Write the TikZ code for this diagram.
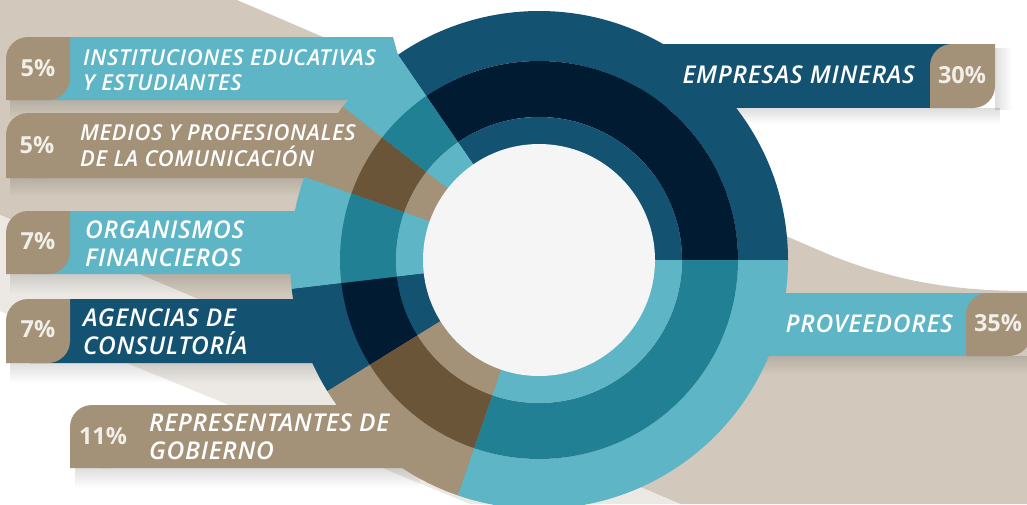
\documentclass[tikz,border=0pt]{standalone}
\usepackage{fontspec}
\IfFontExistsTF{Open Sans SemiBold Italic}
 {\newfontfamily\labfont{Open Sans SemiBold Italic}[LetterSpace=3]}
 {\IfFontExistsTF{Open Sans Semibold Italic}
   {\newfontfamily\labfont{Open Sans Semibold Italic}[LetterSpace=3]}
   {\newfontfamily\labfont{Open Sans}[FakeBold=1.2,FakeSlant=0.2,LetterSpace=3]}}
\newfontfamily\pctfont{Open Sans}
\usetikzlibrary{fadings}
\definecolor{tealL}{HTML}{5DB5C5}
\definecolor{tealD}{HTML}{218094}
\definecolor{navyL}{HTML}{145272}
\definecolor{navyD}{HTML}{011B33}
\definecolor{tanL}{HTML}{A39178}
\definecolor{tanD}{HTML}{6A5538}
\definecolor{bgbeige}{HTML}{D2C9BC}
\definecolor{bglight}{HTML}{ECE9E4}
\definecolor{hole}{HTML}{F5F5F5}
\definecolor{pctc}{HTML}{F2EEE8}
\newcommand\ringseg[5]{%
  \fill[#3] (#1:249) arc[start angle=#1,end angle=#2,radius=249] -- (#2:199) arc[start angle=#2,end angle=#1,radius=199] -- cycle;
  \fill[#4] (#1:199) arc[start angle=#1,end angle=#2,radius=199] -- (#2:143) arc[start angle=#2,end angle=#1,radius=143] -- cycle;
  \fill[#5] (#1:143) arc[start angle=#1,end angle=#2,radius=143] -- (#2:110) arc[start angle=#2,end angle=#1,radius=110] -- cycle;}
\newcommand\leafbadge[4]{%
  \fill[tanL] (#1,#4) -- (#1,{#2+22}) arc[start angle=180,end angle=270,radius=22] -- (#3,#2) -- (#3,{#4-22}) arc[start angle=0,end angle=90,radius=22] -- cycle;}
\tikzset{
  labA/.style={text=white, inner sep=0pt, font=\labfont\fontsize{22}{26}\selectfont},
  labB/.style={text=white, inner sep=0pt, font=\labfont\fontsize{24.5}{28}\selectfont},
  pct/.style={text=pctc, inner sep=0pt, anchor=base, font=\pctfont\bfseries\fontsize{23.5}{26}\selectfont},
  shadowS/.style={fill=black, fill opacity=0.13, path fading=south},
  shadowE/.style={fill=black, fill opacity=0.13, path fading=east},
}
\begin{document}
\begin{tikzpicture}[x=1pt,y=-1pt]
\useasboundingbox (0,0) rectangle (1027,504);
\clip (0,0) rectangle (1027,504);
\fill[white] (0,0) rectangle (1027,504);
% background swooshes
\fill[bgbeige] (0,0) -- (237,0) -- (830,255) .. controls (900,283) and (960,291) .. (1027,291) -- (1027,504) -- (680,504) -- (0,215) -- cycle;
\fill[bglight] (0,215) -- (680,504) -- (470,504) -- (0,311) -- cycle;
% soft shadows under the bars
\fill[shadowS] (10,100) rectangle (395,118);
\fill[shadowS] (10,178) rectangle (310,196);
\fill[shadowS] (10,274) rectangle (300,294);
\fill[shadowS] (10,363) rectangle (330,383);
\fill[shadowS] (75,468) rectangle (420,488);
\fill[shadowS] (720,108) rectangle (1000,124);
\fill[shadowS] (760,356) rectangle (1027,374);
\fill[shadowE] (995,48) rectangle (1012,110);
% connectors and bars
\fill[tealL] (30,37) -- (393,37) -- (398,55) -- (539,260) -- (340,112) -- (349,100) -- (30,100) -- cycle;
\fill[tanL] (30,113) -- (340,113) -- (539,260) -- (305,178) -- (30,178) -- cycle;
\fill[tealL] (30,211) -- (297,211) -- (305,178) -- (539,260) -- (295,288) -- (293,274) -- (30,274) -- cycle;
\fill[navyL] (30,299) -- (296,299) -- (295,288) -- (539,260) -- (330,388) -- (315,363) -- (30,363) -- cycle;
\fill[tanL] (100,405) -- (340,405) -- (330,388) -- (539,260) -- (460,493) -- (403,468) -- (100,468) -- cycle;
\fill[navyL] (640,44) rectangle (975,108);
\fill[tealL] (700,293) rectangle (1010,356);
% donut
\begin{scope}[shift={(539,260)}]
  \ringseg{0}{-124.5}{navyL}{navyD}{navyL}
  \ringseg{-124.5}{-142}{tealL}{tealD}{tealL}
  \ringseg{-142}{-160.5}{tanL}{tanD}{tanL}
  \ringseg{-160.5}{-186.7}{tealL}{tealD}{tealL}
  \ringseg{-186.7}{-211.8}{navyL}{navyD}{navyL}
  \ringseg{-211.8}{-251}{tanL}{tanD}{tanL}
  \ringseg{-251}{-360}{tealL}{tealD}{tealL}
  \fill[hole] (0,0) circle[radius=116];
\end{scope}
% badges
\leafbadge{6}{37}{70}{100}
\leafbadge{6}{113}{70}{178}
\leafbadge{6}{211}{70}{274}
\leafbadge{6}{299}{70}{363}
\leafbadge{70}{405}{134}{468}
\leafbadge{930}{44}{995}{108}
\leafbadge{966}{293}{1031}{356}
% labels
\node[labA, anchor=base west] (i1) at (83,65) {INSTITUCIONES EDUCATIVAS};
\node[labA, anchor=base west] (i2) at (83,90) {Y ESTUDIANTES};
\node[labA, anchor=base west] (m1) at (80,140) {MEDIOS Y PROFESIONALES};
\node[labA, anchor=base west] (m2) at (80,166) {DE LA COMUNICACIÓN};
\node[labB, anchor=base west] (o1) at (85,238) {ORGANISMOS};
\node[labB, anchor=base west] (o2) at (85,266) {FINANCIEROS};
\node[labB, anchor=base west] (a1) at (83,326) {AGENCIAS DE};
\node[labB, anchor=base west] (a2) at (83,354) {CONSULTORÍA};
\node[labB, anchor=base west] (r1) at (149,431) {REPRESENTANTES DE};
\node[labB, anchor=base west] (r2) at (149,459) {GOBIERNO};
\node[labB, anchor=base east] (e1) at (915,83) {EMPRESAS MINERAS};
\node[labB, anchor=base east] (p1) at (953,332) {PROVEEDORES};
\node[pct] (pi) at (38,76) {5\%};
\node[pct] (pm) at (37,153) {5\%};
\node[pct] (po) at (38,249) {7\%};
\node[pct] (pa) at (38,337) {7\%};
\node[pct] (pr) at (103,444) {11\%};
\node[pct] (pe) at (962,83) {30\%};
\node[pct] (pp) at (998,331) {35\%};
\end{tikzpicture}
\end{document}
